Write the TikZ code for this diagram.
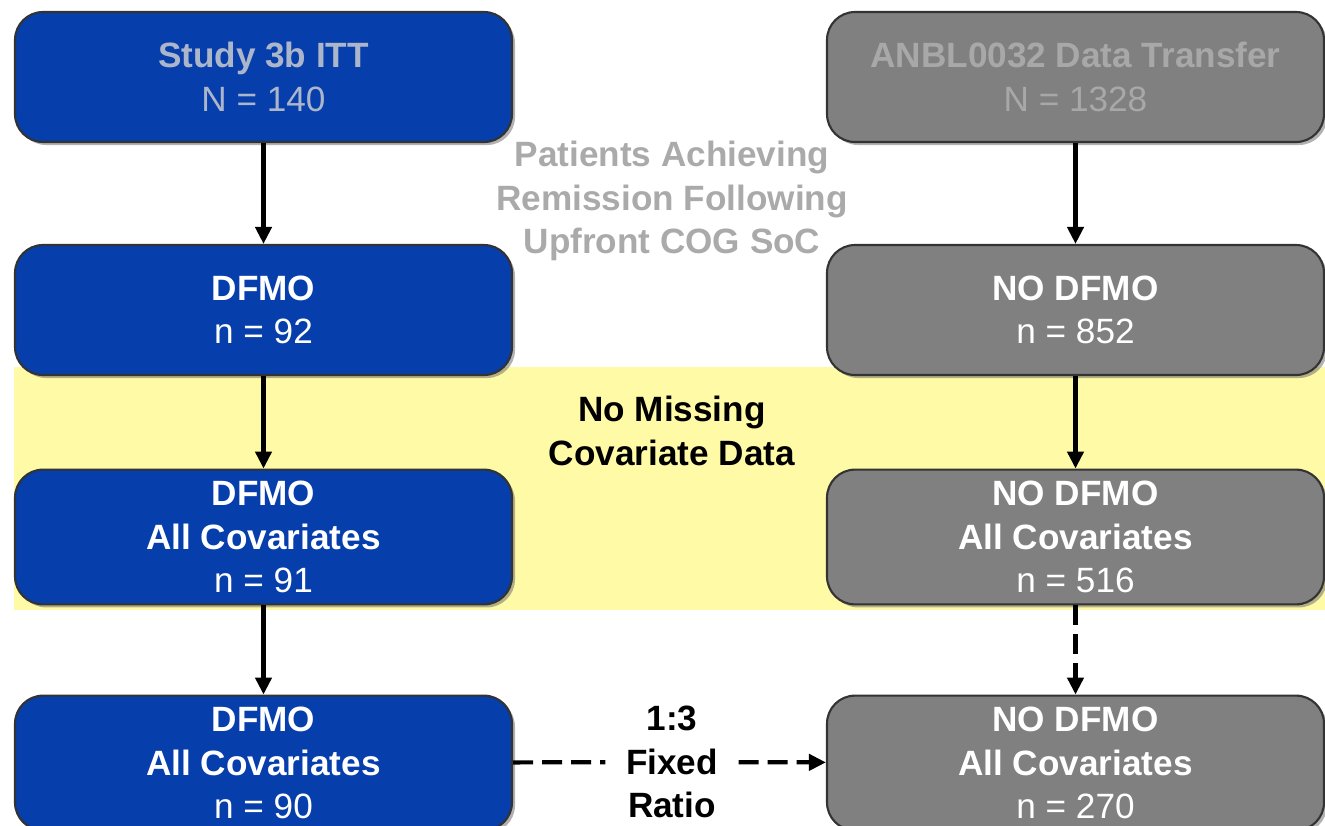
\documentclass[tikz,border=0pt]{standalone}
\usepackage{fontspec}
\setmainfont{Liberation Sans}
\usetikzlibrary{arrows.meta,positioning,shadows}
\definecolor{stblue}{RGB}{6,62,172}
\definecolor{stgray}{RGB}{128,128,128}
\definecolor{stband}{RGB}{255,250,165}
\definecolor{sttitleblue}{RGB}{172,182,202}
\definecolor{sttitlegray}{RGB}{168,168,168}
\definecolor{stnote}{RGB}{170,170,170}
\begin{document}
\begin{tikzpicture}[
  box/.style={draw=black!80, line width=0.6pt, rounded corners=0.28cm, minimum width=4.97cm, minimum height=1.3cm,
    align=center, text=white, font=\fontsize{10}{12.3}\selectfont,
    drop shadow={shadow xshift=0.03cm, shadow yshift=-0.03cm, fill=black!60}},
  bluebox/.style={box, fill=stblue},
  graybox/.style={box, fill=stgray},
  note/.style={align=center, font=\fontsize{10}{12.3}\selectfont\bfseries},
  arr/.style={-{Triangle[length=0.17cm, width=0.16cm]}, line width=1.2pt},
  dasharr/.style={arr, dash pattern=on 0.2cm off 0.09cm}]
\useasboundingbox (0,0) rectangle (13.25,-8.25);
% Band
\fill[stband] (0.14,-3.67) rectangle (13.25,-6.10);
% Study 3b column
\node[bluebox, text=sttitleblue] (l1) at (2.635,-0.77) {\textbf{Study 3b ITT}\\N = 140};
\node[bluebox] (l2) at (2.635,-3.10) {\textbf{DFMO}\\n = 92};
\node[bluebox] (l3) at (2.635,-5.37) {\textbf{DFMO}\\\textbf{All Covariates}\\n = 91};
\node[bluebox] (l4) at (2.635,-7.63) {\textbf{DFMO}\\\textbf{All Covariates}\\n = 90};
% ANBL0032 column
\node[graybox, text=sttitlegray] (r1) at (10.755,-0.77) {\textbf{ANBL0032 Data Transfer}\\N = 1328};
\node[graybox] (r2) at (10.755,-3.10) {\textbf{NO DFMO}\\n = 852};
\node[graybox] (r3) at (10.755,-5.37) {\textbf{NO DFMO}\\\textbf{All Covariates}\\n = 516};
\node[graybox] (r4) at (10.755,-7.63) {\textbf{NO DFMO}\\\textbf{All Covariates}\\n = 270};
% Labels
\node[note, text=stnote] (remission) at (6.72,-2.01) {Patients Achieving\\Remission Following\\Upfront COG SoC};
\node[note] (missing) at (6.72,-4.31) {No Missing\\Covariate Data};
\node[note, inner xsep=0.2cm] (ratio) at (6.72,-7.62) {1:3\\Fixed\\Ratio};
% Arrows
\draw[arr] (l1) -- (l2);
\draw[arr] (l2) -- (l3);
\draw[arr] (l3) -- (l4);
\draw[arr] (r1) -- (r2);
\draw[arr] (r2) -- (r3);
\draw[dasharr] (r3) -- (r4);
\draw[line width=1.2pt, dash pattern=on 0.2cm off 0.09cm] (l4) -- (ratio);
\draw[dasharr] (ratio) -- (r4);
\end{tikzpicture}
\end{document}
